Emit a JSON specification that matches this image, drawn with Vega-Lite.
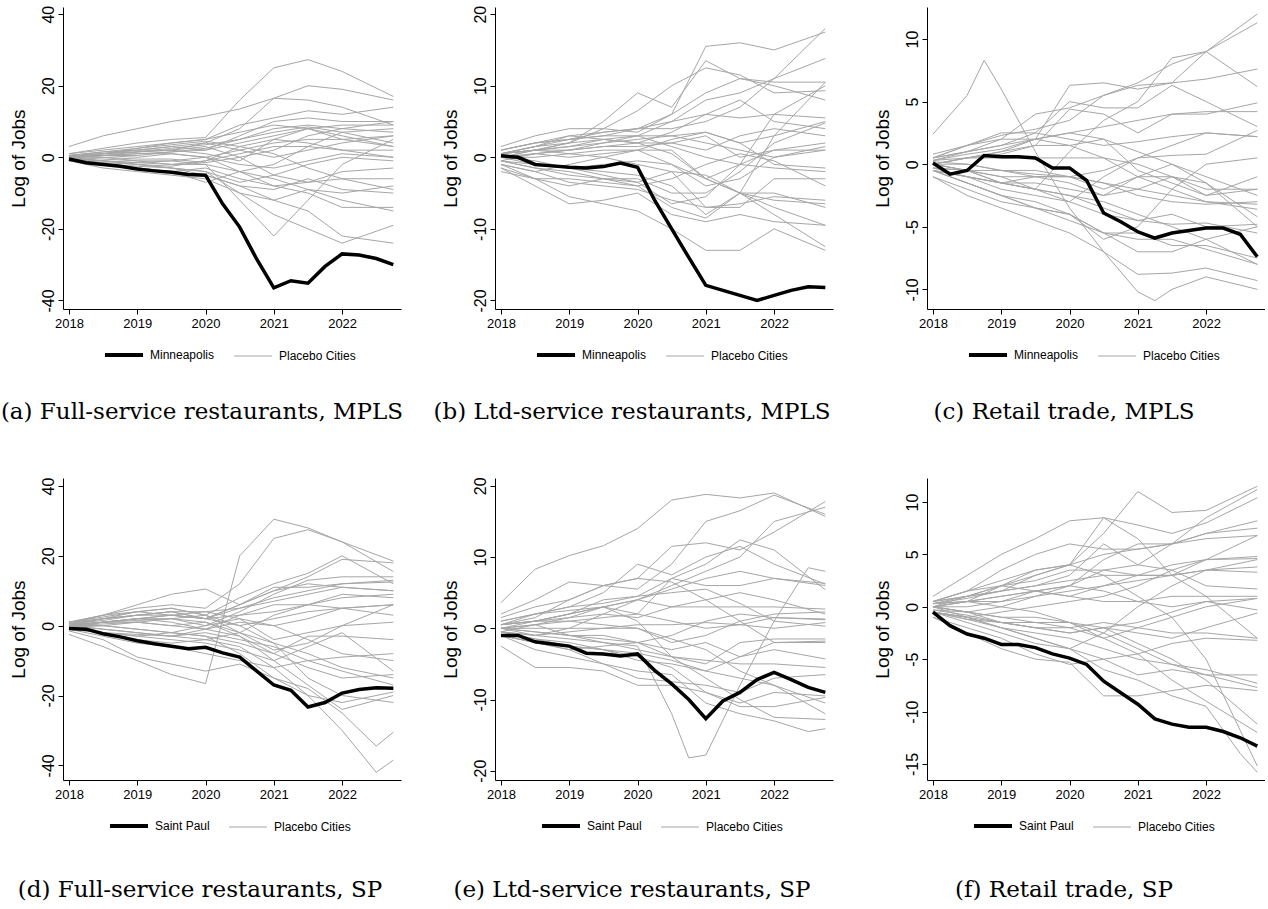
{
  "$schema": "https://vega.github.io/schema/vega-lite/v6.json",
  "background": "white",
  "padding": {"left": 0, "top": 5, "right": 0, "bottom": 0},
  "columns": 3,
  "bounds": "flush",
  "spacing": {"row": 169, "column": 94},
  "datasets": {
    "ap": [
      {"c":1,"q":0,"v":3},{"c":1,"q":2,"v":6},{"c":1,"q":4,"v":8},{"c":1,"q":6,"v":10},{"c":1,"q":8,"v":11.5},{"c":1,"q":10,"v":13.5},{"c":1,"q":12,"v":16.5},{"c":1,"q":14,"v":16},{"c":1,"q":16,"v":14},{"c":1,"q":19,"v":9},
      {"c":2,"q":0,"v":1},{"c":2,"q":2,"v":2.5},{"c":2,"q":4,"v":4},{"c":2,"q":6,"v":5},{"c":2,"q":8,"v":5.5},{"c":2,"q":10,"v":16},{"c":2,"q":12,"v":25},{"c":2,"q":14,"v":27.3},{"c":2,"q":16,"v":24},{"c":2,"q":19,"v":17},
      {"c":3,"q":0,"v":0.5},{"c":3,"q":2,"v":1.5},{"c":3,"q":4,"v":2},{"c":3,"q":6,"v":3},{"c":3,"q":8,"v":4},{"c":3,"q":10,"v":8},{"c":3,"q":12,"v":16.5},{"c":3,"q":14,"v":20},{"c":3,"q":16,"v":19},{"c":3,"q":19,"v":16},
      {"c":4,"q":0,"v":0},{"c":4,"q":2,"v":1},{"c":4,"q":4,"v":2.5},{"c":4,"q":6,"v":4},{"c":4,"q":8,"v":5},{"c":4,"q":10,"v":7},{"c":4,"q":12,"v":9},{"c":4,"q":14,"v":8},{"c":4,"q":16,"v":6},{"c":4,"q":19,"v":3},
      {"c":5,"q":0,"v":0},{"c":5,"q":2,"v":0.5},{"c":5,"q":4,"v":1},{"c":5,"q":6,"v":1.5},{"c":5,"q":8,"v":2},{"c":5,"q":10,"v":6},{"c":5,"q":12,"v":10},{"c":5,"q":14,"v":11},{"c":5,"q":16,"v":10},{"c":5,"q":19,"v":10},
      {"c":6,"q":0,"v":0.5},{"c":6,"q":2,"v":1},{"c":6,"q":4,"v":2},{"c":6,"q":6,"v":3},{"c":6,"q":8,"v":2},{"c":6,"q":10,"v":4},{"c":6,"q":12,"v":6},{"c":6,"q":14,"v":8},{"c":6,"q":16,"v":9},{"c":6,"q":19,"v":9},
      {"c":7,"q":0,"v":0},{"c":7,"q":2,"v":-0.5},{"c":7,"q":4,"v":-1},{"c":7,"q":6,"v":-1},{"c":7,"q":8,"v":0},{"c":7,"q":10,"v":2},{"c":7,"q":12,"v":4},{"c":7,"q":14,"v":5},{"c":7,"q":16,"v":5},{"c":7,"q":19,"v":6},
      {"c":8,"q":0,"v":-0.5},{"c":8,"q":2,"v":-1},{"c":8,"q":4,"v":-1.5},{"c":8,"q":6,"v":-2},{"c":8,"q":8,"v":-1},{"c":8,"q":10,"v":1},{"c":8,"q":12,"v":3},{"c":8,"q":14,"v":3},{"c":8,"q":16,"v":2},{"c":8,"q":19,"v":2},
      {"c":9,"q":0,"v":0},{"c":9,"q":2,"v":0.5},{"c":9,"q":4,"v":0},{"c":9,"q":6,"v":1},{"c":9,"q":8,"v":0},{"c":9,"q":10,"v":-2},{"c":9,"q":12,"v":-3},{"c":9,"q":14,"v":-1},{"c":9,"q":16,"v":1},{"c":9,"q":19,"v":0},
      {"c":10,"q":0,"v":-1},{"c":10,"q":2,"v":-2},{"c":10,"q":4,"v":-3},{"c":10,"q":6,"v":-4},{"c":10,"q":8,"v":-3},{"c":10,"q":10,"v":-6},{"c":10,"q":12,"v":-8},{"c":10,"q":14,"v":-7},{"c":10,"q":16,"v":-4},{"c":10,"q":19,"v":-3},
      {"c":11,"q":0,"v":-0.5},{"c":11,"q":2,"v":-2},{"c":11,"q":4,"v":-3},{"c":11,"q":6,"v":-4},{"c":11,"q":8,"v":-5},{"c":11,"q":10,"v":-8},{"c":11,"q":12,"v":-9},{"c":11,"q":14,"v":-6},{"c":11,"q":16,"v":-9},{"c":11,"q":19,"v":-10},
      {"c":12,"q":0,"v":0},{"c":12,"q":2,"v":-1},{"c":12,"q":4,"v":-2},{"c":12,"q":6,"v":-3},{"c":12,"q":8,"v":-4},{"c":12,"q":10,"v":-10},{"c":12,"q":12,"v":-12},{"c":12,"q":14,"v":-15},{"c":12,"q":16,"v":-22},{"c":12,"q":19,"v":-24},
      {"c":13,"q":0,"v":0.5},{"c":13,"q":2,"v":0},{"c":13,"q":4,"v":-1},{"c":13,"q":6,"v":-2},{"c":13,"q":8,"v":-2},{"c":13,"q":10,"v":-12},{"c":13,"q":12,"v":-22},{"c":13,"q":14,"v":-12},{"c":13,"q":16,"v":-2},{"c":13,"q":19,"v":5},
      {"c":14,"q":0,"v":-1},{"c":14,"q":2,"v":-3},{"c":14,"q":4,"v":-4},{"c":14,"q":6,"v":-5},{"c":14,"q":8,"v":-6},{"c":14,"q":10,"v":-10},{"c":14,"q":12,"v":-16},{"c":14,"q":14,"v":-20},{"c":14,"q":16,"v":-24},{"c":14,"q":19,"v":-19},
      {"c":15,"q":0,"v":0},{"c":15,"q":2,"v":0.5},{"c":15,"q":4,"v":1},{"c":15,"q":6,"v":1},{"c":15,"q":8,"v":0},{"c":15,"q":10,"v":-4},{"c":15,"q":12,"v":-8},{"c":15,"q":14,"v":-10},{"c":15,"q":16,"v":-14},{"c":15,"q":19,"v":-14},
      {"c":16,"q":0,"v":1},{"c":16,"q":2,"v":2},{"c":16,"q":4,"v":3},{"c":16,"q":6,"v":4},{"c":16,"q":8,"v":5},{"c":16,"q":10,"v":9},{"c":16,"q":12,"v":11},{"c":16,"q":14,"v":13},{"c":16,"q":16,"v":12},{"c":16,"q":19,"v":14},
      {"c":17,"q":0,"v":0},{"c":17,"q":2,"v":-1},{"c":17,"q":4,"v":-2},{"c":17,"q":6,"v":-2.5},{"c":17,"q":8,"v":-1},{"c":17,"q":10,"v":3},{"c":17,"q":12,"v":1},{"c":17,"q":14,"v":-3},{"c":17,"q":16,"v":-6},{"c":17,"q":19,"v":-6},
      {"c":18,"q":0,"v":-0.5},{"c":18,"q":2,"v":-1.5},{"c":18,"q":4,"v":-3},{"c":18,"q":6,"v":-4},{"c":18,"q":8,"v":-7},{"c":18,"q":10,"v":-4},{"c":18,"q":12,"v":-2},{"c":18,"q":14,"v":3},{"c":18,"q":16,"v":7},{"c":18,"q":19,"v":8},
      {"c":19,"q":0,"v":0},{"c":19,"q":2,"v":1},{"c":19,"q":4,"v":2},{"c":19,"q":6,"v":2},{"c":19,"q":8,"v":1},{"c":19,"q":10,"v":-1},{"c":19,"q":12,"v":5},{"c":19,"q":14,"v":8},{"c":19,"q":16,"v":5},{"c":19,"q":19,"v":3},
      {"c":20,"q":0,"v":0.5},{"c":20,"q":2,"v":1},{"c":20,"q":4,"v":1.5},{"c":20,"q":6,"v":2},{"c":20,"q":8,"v":3},{"c":20,"q":10,"v":0},{"c":20,"q":12,"v":-5},{"c":20,"q":14,"v":-7},{"c":20,"q":16,"v":-6},{"c":20,"q":19,"v":-9},
      {"c":21,"q":0,"v":0.5},{"c":21,"q":2,"v":1},{"c":21,"q":4,"v":1.5},{"c":21,"q":6,"v":2.5},{"c":21,"q":8,"v":3.5},{"c":21,"q":10,"v":5},{"c":21,"q":12,"v":7},{"c":21,"q":14,"v":8.5},{"c":21,"q":16,"v":7},{"c":21,"q":19,"v":4},
      {"c":22,"q":0,"v":-0.5},{"c":22,"q":2,"v":-1},{"c":22,"q":4,"v":-1.5},{"c":22,"q":6,"v":-1},{"c":22,"q":8,"v":-2},{"c":22,"q":10,"v":-4},{"c":22,"q":12,"v":-6},{"c":22,"q":14,"v":-9},{"c":22,"q":16,"v":-10},{"c":22,"q":19,"v":-8},
      {"c":23,"q":0,"v":0},{"c":23,"q":2,"v":0.5},{"c":23,"q":4,"v":1.5},{"c":23,"q":6,"v":2},{"c":23,"q":8,"v":4},{"c":23,"q":10,"v":2},{"c":23,"q":12,"v":0},{"c":23,"q":14,"v":2},{"c":23,"q":16,"v":4},{"c":23,"q":19,"v":6},
      {"c":24,"q":0,"v":0.5},{"c":24,"q":2,"v":1.5},{"c":24,"q":4,"v":2.5},{"c":24,"q":6,"v":3.5},{"c":24,"q":8,"v":4.5},{"c":24,"q":10,"v":3},{"c":24,"q":12,"v":5},{"c":24,"q":14,"v":4},{"c":24,"q":16,"v":2},{"c":24,"q":19,"v":0},
      {"c":25,"q":0,"v":-0.5},{"c":25,"q":2,"v":-1.5},{"c":25,"q":4,"v":-2},{"c":25,"q":6,"v":-3},{"c":25,"q":8,"v":-4},{"c":25,"q":10,"v":-7},{"c":25,"q":12,"v":-5},{"c":25,"q":14,"v":-2},{"c":25,"q":16,"v":0},{"c":25,"q":19,"v":-1},
      {"c":26,"q":0,"v":0},{"c":26,"q":2,"v":0},{"c":26,"q":4,"v":-0.5},{"c":26,"q":6,"v":-0.5},{"c":26,"q":8,"v":-1.5},{"c":26,"q":10,"v":0},{"c":26,"q":12,"v":2},{"c":26,"q":14,"v":6},{"c":26,"q":16,"v":8},{"c":26,"q":19,"v":10},
      {"c":27,"q":0,"v":0},{"c":27,"q":2,"v":0.5},{"c":27,"q":4,"v":0.5},{"c":27,"q":6,"v":1.5},{"c":27,"q":8,"v":2.5},{"c":27,"q":10,"v":5},{"c":27,"q":12,"v":8},{"c":27,"q":14,"v":9},{"c":27,"q":16,"v":8},{"c":27,"q":19,"v":7},
      {"c":28,"q":0,"v":-1},{"c":28,"q":2,"v":-2},{"c":28,"q":4,"v":-2.5},{"c":28,"q":6,"v":-3},{"c":28,"q":8,"v":-5},{"c":28,"q":10,"v":-8},{"c":28,"q":12,"v":-12},{"c":28,"q":14,"v":-9},{"c":28,"q":16,"v":-12},{"c":28,"q":19,"v":-15}
    ],
    "at": [
      {"q":0,"v":-0.5},{"q":1,"v":-1.5},{"q":2,"v":-2},{"q":3,"v":-2.5},{"q":4,"v":-3.3},{"q":5,"v":-3.8},{"q":6,"v":-4.2},{"q":7,"v":-4.8},{"q":8,"v":-5},{"q":9,"v":-13},
      {"q":10,"v":-19.5},{"q":11,"v":-28.5},{"q":12,"v":-36.5},{"q":13,"v":-34.5},{"q":14,"v":-35.2},{"q":15,"v":-30.5},{"q":16,"v":-27},{"q":17,"v":-27.3},{"q":18,"v":-28.3},{"q":19,"v":-30}
    ],
    "bp": [
      {"c":1,"q":0,"v":1.5},{"c":1,"q":2,"v":3},{"c":1,"q":4,"v":4},{"c":1,"q":6,"v":4},{"c":1,"q":8,"v":3.5},{"c":1,"q":10,"v":6},{"c":1,"q":12,"v":15.5},{"c":1,"q":14,"v":16},{"c":1,"q":16,"v":15},{"c":1,"q":19,"v":17.5},
      {"c":2,"q":0,"v":0.5},{"c":2,"q":2,"v":1},{"c":2,"q":4,"v":2},{"c":2,"q":6,"v":5},{"c":2,"q":8,"v":9},{"c":2,"q":10,"v":7},{"c":2,"q":12,"v":13.5},{"c":2,"q":14,"v":11},{"c":2,"q":16,"v":10},{"c":2,"q":19,"v":8},
      {"c":3,"q":0,"v":0},{"c":3,"q":2,"v":1},{"c":3,"q":4,"v":2},{"c":3,"q":6,"v":4},{"c":3,"q":8,"v":6.5},{"c":3,"q":10,"v":10},{"c":3,"q":12,"v":12.5},{"c":3,"q":14,"v":11.5},{"c":3,"q":16,"v":9},{"c":3,"q":19,"v":9.3},
      {"c":4,"q":0,"v":0.5},{"c":4,"q":2,"v":1.5},{"c":4,"q":4,"v":2},{"c":4,"q":6,"v":2.5},{"c":4,"q":8,"v":3},{"c":4,"q":10,"v":5},{"c":4,"q":12,"v":8},{"c":4,"q":14,"v":9},{"c":4,"q":16,"v":11},{"c":4,"q":19,"v":13.8},
      {"c":5,"q":0,"v":1},{"c":5,"q":2,"v":2},{"c":5,"q":4,"v":2.5},{"c":5,"q":6,"v":3},{"c":5,"q":8,"v":4},{"c":5,"q":10,"v":4},{"c":5,"q":12,"v":5},{"c":5,"q":14,"v":7},{"c":5,"q":16,"v":11},{"c":5,"q":19,"v":18},
      {"c":6,"q":0,"v":0},{"c":6,"q":2,"v":0.5},{"c":6,"q":4,"v":1},{"c":6,"q":6,"v":2},{"c":6,"q":8,"v":3},{"c":6,"q":10,"v":3},{"c":6,"q":12,"v":3.5},{"c":6,"q":14,"v":2},{"c":6,"q":16,"v":3},{"c":6,"q":19,"v":5},
      {"c":7,"q":0,"v":-0.5},{"c":7,"q":2,"v":0.5},{"c":7,"q":4,"v":1},{"c":7,"q":6,"v":1.5},{"c":7,"q":8,"v":1.5},{"c":7,"q":10,"v":2},{"c":7,"q":12,"v":3},{"c":7,"q":14,"v":0},{"c":7,"q":16,"v":1},{"c":7,"q":19,"v":2},
      {"c":8,"q":0,"v":0.5},{"c":8,"q":2,"v":1},{"c":8,"q":4,"v":0.5},{"c":8,"q":6,"v":1},{"c":8,"q":8,"v":1},{"c":8,"q":10,"v":2.5},{"c":8,"q":12,"v":3.5},{"c":8,"q":14,"v":2},{"c":8,"q":16,"v":-1},{"c":8,"q":19,"v":-1.5},
      {"c":9,"q":0,"v":-1},{"c":9,"q":2,"v":-2},{"c":9,"q":4,"v":-1},{"c":9,"q":6,"v":0},{"c":9,"q":8,"v":1},{"c":9,"q":10,"v":1},{"c":9,"q":12,"v":-3},{"c":9,"q":14,"v":-1},{"c":9,"q":16,"v":1},{"c":9,"q":19,"v":1},
      {"c":10,"q":0,"v":-1.5},{"c":10,"q":2,"v":-3},{"c":10,"q":4,"v":-4},{"c":10,"q":6,"v":-3},{"c":10,"q":8,"v":-3},{"c":10,"q":10,"v":-5},{"c":10,"q":12,"v":-5},{"c":10,"q":14,"v":-2},{"c":10,"q":16,"v":2},{"c":10,"q":19,"v":4.8},
      {"c":11,"q":0,"v":0},{"c":11,"q":2,"v":-1},{"c":11,"q":4,"v":-1.5},{"c":11,"q":6,"v":-2},{"c":11,"q":8,"v":-2.5},{"c":11,"q":10,"v":-4},{"c":11,"q":12,"v":-8},{"c":11,"q":14,"v":-5},{"c":11,"q":16,"v":-5},{"c":11,"q":19,"v":-7},
      {"c":12,"q":0,"v":-1.5},{"c":12,"q":2,"v":-4},{"c":12,"q":4,"v":-6.5},{"c":12,"q":6,"v":-6},{"c":12,"q":8,"v":-5},{"c":12,"q":10,"v":-8},{"c":12,"q":12,"v":-9},{"c":12,"q":14,"v":-8},{"c":12,"q":16,"v":-9},{"c":12,"q":19,"v":-9.5},
      {"c":13,"q":0,"v":-1},{"c":13,"q":2,"v":-3},{"c":13,"q":4,"v":-5.5},{"c":13,"q":6,"v":-6.5},{"c":13,"q":8,"v":-7.5},{"c":13,"q":10,"v":-10},{"c":13,"q":12,"v":-13},{"c":13,"q":14,"v":-13},{"c":13,"q":16,"v":-10},{"c":13,"q":19,"v":-13},
      {"c":14,"q":0,"v":-0.5},{"c":14,"q":2,"v":-1.5},{"c":14,"q":4,"v":-2.5},{"c":14,"q":6,"v":-3},{"c":14,"q":8,"v":-3.5},{"c":14,"q":10,"v":-2},{"c":14,"q":12,"v":-7},{"c":14,"q":14,"v":-7},{"c":14,"q":16,"v":-3},{"c":14,"q":19,"v":-3},
      {"c":15,"q":0,"v":0.5},{"c":15,"q":2,"v":1.5},{"c":15,"q":4,"v":2.5},{"c":15,"q":6,"v":3},{"c":15,"q":8,"v":3},{"c":15,"q":10,"v":1.5},{"c":15,"q":12,"v":0},{"c":15,"q":14,"v":-1},{"c":15,"q":16,"v":-1.5},{"c":15,"q":19,"v":-2},
      {"c":16,"q":0,"v":0},{"c":16,"q":2,"v":-0.5},{"c":16,"q":4,"v":-1.5},{"c":16,"q":6,"v":-2.5},{"c":16,"q":8,"v":-3.5},{"c":16,"q":10,"v":-6.5},{"c":16,"q":12,"v":-5.5},{"c":16,"q":14,"v":-1},{"c":16,"q":16,"v":6},{"c":16,"q":19,"v":10},
      {"c":17,"q":0,"v":-2},{"c":17,"q":2,"v":-3},{"c":17,"q":4,"v":-3},{"c":17,"q":6,"v":-3.5},{"c":17,"q":8,"v":-4},{"c":17,"q":10,"v":-7},{"c":17,"q":12,"v":-8.5},{"c":17,"q":14,"v":-5},{"c":17,"q":16,"v":3},{"c":17,"q":19,"v":10.5},
      {"c":18,"q":0,"v":0.5},{"c":18,"q":2,"v":1},{"c":18,"q":4,"v":1},{"c":18,"q":6,"v":1.5},{"c":18,"q":8,"v":2},{"c":18,"q":10,"v":0.5},{"c":18,"q":12,"v":-3},{"c":18,"q":14,"v":-5},{"c":18,"q":16,"v":-6},{"c":18,"q":19,"v":-6.5},
      {"c":19,"q":0,"v":1},{"c":19,"q":2,"v":2},{"c":19,"q":4,"v":3},{"c":19,"q":6,"v":2.5},{"c":19,"q":8,"v":2},{"c":19,"q":10,"v":3.5},{"c":19,"q":12,"v":6},{"c":19,"q":14,"v":8},{"c":19,"q":16,"v":5},{"c":19,"q":19,"v":4},
      {"c":20,"q":0,"v":0},{"c":20,"q":2,"v":0},{"c":20,"q":4,"v":0.5},{"c":20,"q":6,"v":0},{"c":20,"q":8,"v":-1},{"c":20,"q":10,"v":-2},{"c":20,"q":12,"v":-2.5},{"c":20,"q":14,"v":-5},{"c":20,"q":16,"v":-8},{"c":20,"q":19,"v":-12.5},
      {"c":21,"q":0,"v":0.5},{"c":21,"q":2,"v":1.5},{"c":21,"q":4,"v":3},{"c":21,"q":6,"v":3.5},{"c":21,"q":8,"v":4},{"c":21,"q":10,"v":5},{"c":21,"q":12,"v":6},{"c":21,"q":14,"v":5.5},{"c":21,"q":16,"v":6},{"c":21,"q":19,"v":5.5},
      {"c":22,"q":0,"v":0},{"c":22,"q":2,"v":1},{"c":22,"q":4,"v":1.5},{"c":22,"q":6,"v":2},{"c":22,"q":8,"v":2.5},{"c":22,"q":10,"v":3},{"c":22,"q":12,"v":2},{"c":22,"q":14,"v":1},{"c":22,"q":16,"v":0},{"c":22,"q":19,"v":1},
      {"c":23,"q":0,"v":-0.5},{"c":23,"q":2,"v":-1},{"c":23,"q":4,"v":-1.5},{"c":23,"q":6,"v":-1},{"c":23,"q":8,"v":-0.5},{"c":23,"q":10,"v":-1},{"c":23,"q":12,"v":-3},{"c":23,"q":14,"v":-5},{"c":23,"q":16,"v":-7},{"c":23,"q":19,"v":-9.5},
      {"c":24,"q":0,"v":1},{"c":24,"q":2,"v":2},{"c":24,"q":4,"v":2.5},{"c":24,"q":6,"v":3.5},{"c":24,"q":8,"v":4},{"c":24,"q":10,"v":6},{"c":24,"q":12,"v":9},{"c":24,"q":14,"v":11},{"c":24,"q":16,"v":10.5},{"c":24,"q":19,"v":10.5},
      {"c":25,"q":0,"v":-1},{"c":25,"q":2,"v":-2},{"c":25,"q":4,"v":-3.5},{"c":25,"q":6,"v":-4},{"c":25,"q":8,"v":-4.5},{"c":25,"q":10,"v":-6},{"c":25,"q":12,"v":-7},{"c":25,"q":14,"v":-6.5},{"c":25,"q":16,"v":-5.5},{"c":25,"q":19,"v":-6},
      {"c":26,"q":0,"v":0.5},{"c":26,"q":2,"v":1},{"c":26,"q":4,"v":1.5},{"c":26,"q":6,"v":2.5},{"c":26,"q":8,"v":2},{"c":26,"q":10,"v":2},{"c":26,"q":12,"v":1},{"c":26,"q":14,"v":3},{"c":26,"q":16,"v":4},{"c":26,"q":19,"v":3},
      {"c":27,"q":0,"v":0},{"c":27,"q":2,"v":0.5},{"c":27,"q":4,"v":0},{"c":27,"q":6,"v":0.5},{"c":27,"q":8,"v":1},{"c":27,"q":10,"v":-1},{"c":27,"q":12,"v":-4},{"c":27,"q":14,"v":-3},{"c":27,"q":16,"v":0},{"c":27,"q":19,"v":1.5},
      {"c":28,"q":0,"v":-0.5},{"c":28,"q":2,"v":-1.5},{"c":28,"q":4,"v":-2},{"c":28,"q":6,"v":-3},{"c":28,"q":8,"v":-4},{"c":28,"q":10,"v":-3},{"c":28,"q":12,"v":-1},{"c":28,"q":14,"v":0.5},{"c":28,"q":16,"v":-0.5},{"c":28,"q":19,"v":-4}
    ],
    "bt": [
      {"q":0,"v":0.2},{"q":1,"v":0},{"q":2,"v":-1},{"q":3,"v":-1.2},{"q":4,"v":-1.4},{"q":5,"v":-1.5},{"q":6,"v":-1.3},{"q":7,"v":-0.8},{"q":8,"v":-1.4},{"q":9,"v":-6},
      {"q":10,"v":-10},{"q":11,"v":-14},{"q":12,"v":-17.9},{"q":13,"v":-18.6},{"q":14,"v":-19.3},{"q":15,"v":-20},{"q":16,"v":-19.3},{"q":17,"v":-18.6},{"q":18,"v":-18.1},{"q":19,"v":-18.2}
    ],
    "cp": [
      {"c":1,"q":0,"v":2.4},{"c":1,"q":2,"v":5.5},{"c":1,"q":3,"v":8.3},{"c":1,"q":4,"v":6},{"c":1,"q":6,"v":1},{"c":1,"q":8,"v":-3.5},{"c":1,"q":10,"v":-7},{"c":1,"q":12,"v":-10.2},{"c":1,"q":13,"v":-10.9},{"c":1,"q":14,"v":-10},{"c":1,"q":16,"v":-9},{"c":1,"q":19,"v":-10},
      {"c":2,"q":0,"v":0.8},{"c":2,"q":2,"v":1.5},{"c":2,"q":4,"v":2.3},{"c":2,"q":6,"v":2.8},{"c":2,"q":8,"v":3.5},{"c":2,"q":10,"v":5.5},{"c":2,"q":12,"v":6.5},{"c":2,"q":14,"v":8},{"c":2,"q":16,"v":9},{"c":2,"q":19,"v":12},
      {"c":3,"q":0,"v":0.5},{"c":3,"q":2,"v":1},{"c":3,"q":4,"v":2},{"c":3,"q":6,"v":4},{"c":3,"q":8,"v":4.5},{"c":3,"q":10,"v":5.5},{"c":3,"q":12,"v":6.3},{"c":3,"q":14,"v":6.5},{"c":3,"q":16,"v":9},{"c":3,"q":19,"v":11.3},
      {"c":4,"q":0,"v":0},{"c":4,"q":2,"v":0.5},{"c":4,"q":4,"v":1},{"c":4,"q":6,"v":2},{"c":4,"q":8,"v":6.3},{"c":4,"q":10,"v":6.5},{"c":4,"q":12,"v":6},{"c":4,"q":14,"v":6.5},{"c":4,"q":16,"v":6.8},{"c":4,"q":19,"v":7.6},
      {"c":5,"q":0,"v":0.3},{"c":5,"q":2,"v":1},{"c":5,"q":4,"v":1.5},{"c":5,"q":6,"v":2.5},{"c":5,"q":8,"v":5},{"c":5,"q":10,"v":4.5},{"c":5,"q":12,"v":4.5},{"c":5,"q":14,"v":6.3},{"c":5,"q":16,"v":5},{"c":5,"q":19,"v":3},
      {"c":6,"q":0,"v":0},{"c":6,"q":2,"v":0.5},{"c":6,"q":4,"v":0.8},{"c":6,"q":6,"v":1.5},{"c":6,"q":8,"v":4.4},{"c":6,"q":10,"v":4},{"c":6,"q":12,"v":2.5},{"c":6,"q":14,"v":4},{"c":6,"q":16,"v":4},{"c":6,"q":19,"v":4.9},
      {"c":7,"q":0,"v":-0.3},{"c":7,"q":2,"v":-0.5},{"c":7,"q":4,"v":-1.5},{"c":7,"q":6,"v":-2},{"c":7,"q":8,"v":1},{"c":7,"q":10,"v":3.5},{"c":7,"q":12,"v":5},{"c":7,"q":14,"v":8.5},{"c":7,"q":16,"v":9},{"c":7,"q":19,"v":6.2},
      {"c":8,"q":0,"v":0.5},{"c":8,"q":2,"v":1.5},{"c":8,"q":4,"v":2.5},{"c":8,"q":6,"v":2.5},{"c":8,"q":8,"v":2},{"c":8,"q":10,"v":1.5},{"c":8,"q":12,"v":1.8},{"c":8,"q":14,"v":2.2},{"c":8,"q":16,"v":2.5},{"c":8,"q":19,"v":2.2},
      {"c":9,"q":0,"v":-0.5},{"c":9,"q":2,"v":-1},{"c":9,"q":4,"v":-2},{"c":9,"q":6,"v":-2.5},{"c":9,"q":8,"v":-3},{"c":9,"q":10,"v":-1},{"c":9,"q":12,"v":0.5},{"c":9,"q":14,"v":0.7},{"c":9,"q":16,"v":0.8},{"c":9,"q":19,"v":2.7},
      {"c":10,"q":0,"v":0},{"c":10,"q":2,"v":-0.5},{"c":10,"q":4,"v":-1},{"c":10,"q":6,"v":-1},{"c":10,"q":8,"v":-1},{"c":10,"q":10,"v":-1.5},{"c":10,"q":12,"v":-2},{"c":10,"q":14,"v":-1},{"c":10,"q":16,"v":-2.5},{"c":10,"q":19,"v":-1},
      {"c":11,"q":0,"v":-0.5},{"c":11,"q":2,"v":-1.5},{"c":11,"q":4,"v":-2.5},{"c":11,"q":6,"v":-3.5},{"c":11,"q":8,"v":-4},{"c":11,"q":10,"v":-6},{"c":11,"q":12,"v":-5},{"c":11,"q":14,"v":-2},{"c":11,"q":16,"v":0},{"c":11,"q":19,"v":0.5},
      {"c":12,"q":0,"v":0.2},{"c":12,"q":2,"v":0},{"c":12,"q":4,"v":-0.5},{"c":12,"q":6,"v":-0.5},{"c":12,"q":8,"v":-1},{"c":12,"q":10,"v":-2},{"c":12,"q":12,"v":-1},{"c":12,"q":14,"v":-1},{"c":12,"q":16,"v":-2},{"c":12,"q":19,"v":-2},
      {"c":13,"q":0,"v":-0.3},{"c":13,"q":2,"v":-1},{"c":13,"q":4,"v":-1.5},{"c":13,"q":6,"v":-1},{"c":13,"q":8,"v":-1.5},{"c":13,"q":10,"v":-2.5},{"c":13,"q":12,"v":-2},{"c":13,"q":14,"v":-2.5},{"c":13,"q":16,"v":-3},{"c":13,"q":19,"v":-3.6},
      {"c":14,"q":0,"v":-1},{"c":14,"q":2,"v":-2},{"c":14,"q":4,"v":-3},{"c":14,"q":6,"v":-3.5},{"c":14,"q":8,"v":-4},{"c":14,"q":10,"v":-5.5},{"c":14,"q":12,"v":-7},{"c":14,"q":14,"v":-7},{"c":14,"q":16,"v":-6},{"c":14,"q":19,"v":-5},
      {"c":15,"q":0,"v":-1},{"c":15,"q":2,"v":-2.5},{"c":15,"q":4,"v":-3.5},{"c":15,"q":6,"v":-4.5},{"c":15,"q":8,"v":-5.5},{"c":15,"q":10,"v":-7},{"c":15,"q":12,"v":-8.8},{"c":15,"q":14,"v":-8.7},{"c":15,"q":16,"v":-8.3},{"c":15,"q":19,"v":-9.3},
      {"c":16,"q":0,"v":-0.5},{"c":16,"q":2,"v":-1.5},{"c":16,"q":4,"v":-2.5},{"c":16,"q":6,"v":-3},{"c":16,"q":8,"v":-4},{"c":16,"q":10,"v":-5.5},{"c":16,"q":12,"v":-5.5},{"c":16,"q":14,"v":-6.5},{"c":16,"q":16,"v":-6.5},{"c":16,"q":19,"v":-7.5},
      {"c":17,"q":0,"v":0},{"c":17,"q":2,"v":-0.5},{"c":17,"q":4,"v":-1},{"c":17,"q":6,"v":-2},{"c":17,"q":8,"v":-2.5},{"c":17,"q":10,"v":-3},{"c":17,"q":12,"v":-4},{"c":17,"q":14,"v":-5},{"c":17,"q":16,"v":-6},{"c":17,"q":19,"v":-8},
      {"c":18,"q":0,"v":0},{"c":18,"q":2,"v":0.5},{"c":18,"q":4,"v":1},{"c":18,"q":6,"v":1.5},{"c":18,"q":8,"v":1.5},{"c":18,"q":10,"v":2},{"c":18,"q":12,"v":1},{"c":18,"q":14,"v":0},{"c":18,"q":16,"v":-1},{"c":18,"q":19,"v":-2.5},
      {"c":19,"q":0,"v":-0.5},{"c":19,"q":2,"v":-1},{"c":19,"q":4,"v":-1.5},{"c":19,"q":6,"v":-1.5},{"c":19,"q":8,"v":-2},{"c":19,"q":10,"v":-2.5},{"c":19,"q":12,"v":-1},{"c":19,"q":14,"v":0},{"c":19,"q":16,"v":-1.5},{"c":19,"q":19,"v":-4.2},
      {"c":20,"q":0,"v":0.3},{"c":20,"q":2,"v":0.5},{"c":20,"q":4,"v":0.5},{"c":20,"q":6,"v":0.5},{"c":20,"q":8,"v":0.5},{"c":20,"q":10,"v":0.5},{"c":20,"q":12,"v":0},{"c":20,"q":14,"v":-1},{"c":20,"q":16,"v":-1.5},{"c":20,"q":19,"v":-5},
      {"c":21,"q":0,"v":0.5},{"c":21,"q":2,"v":1},{"c":21,"q":4,"v":1.5},{"c":21,"q":6,"v":2},{"c":21,"q":8,"v":2.5},{"c":21,"q":10,"v":3},{"c":21,"q":12,"v":3.5},{"c":21,"q":14,"v":4},{"c":21,"q":16,"v":4.2},{"c":21,"q":19,"v":4.2},
      {"c":22,"q":0,"v":-0.5},{"c":22,"q":2,"v":-1},{"c":22,"q":4,"v":-1.5},{"c":22,"q":6,"v":-2},{"c":22,"q":8,"v":-2.5},{"c":22,"q":10,"v":-3.5},{"c":22,"q":12,"v":-4.5},{"c":22,"q":14,"v":-4.8},{"c":22,"q":16,"v":-4.7},{"c":22,"q":19,"v":-5.5},
      {"c":23,"q":0,"v":0},{"c":23,"q":2,"v":0},{"c":23,"q":4,"v":-0.5},{"c":23,"q":6,"v":-1},{"c":23,"q":8,"v":-1},{"c":23,"q":10,"v":-0.5},{"c":23,"q":12,"v":0.5},{"c":23,"q":14,"v":1.5},{"c":23,"q":16,"v":2.5},{"c":23,"q":19,"v":2.2},
      {"c":24,"q":0,"v":-0.5},{"c":24,"q":2,"v":-1.5},{"c":24,"q":4,"v":-2.5},{"c":24,"q":6,"v":-3.5},{"c":24,"q":8,"v":-4.5},{"c":24,"q":10,"v":-5.5},{"c":24,"q":12,"v":-6},{"c":24,"q":14,"v":-6},{"c":24,"q":16,"v":-6.8},{"c":24,"q":19,"v":-8},
      {"c":25,"q":0,"v":0.3},{"c":25,"q":2,"v":0.8},{"c":25,"q":4,"v":1.2},{"c":25,"q":6,"v":2},{"c":25,"q":8,"v":2.5},{"c":25,"q":10,"v":2},{"c":25,"q":12,"v":-0.5},{"c":25,"q":14,"v":-1.5},{"c":25,"q":16,"v":-2.5},{"c":25,"q":19,"v":-2},
      {"c":26,"q":0,"v":-0.3},{"c":26,"q":2,"v":-0.5},{"c":26,"q":4,"v":-0.5},{"c":26,"q":6,"v":-0.8},{"c":26,"q":8,"v":-1},{"c":26,"q":10,"v":-1.5},{"c":26,"q":12,"v":-2.5},{"c":26,"q":14,"v":-3},{"c":26,"q":16,"v":-3.2},{"c":26,"q":19,"v":-3},
      {"c":27,"q":0,"v":0.5},{"c":27,"q":2,"v":1.5},{"c":27,"q":4,"v":2},{"c":27,"q":6,"v":2},{"c":27,"q":8,"v":1.5},{"c":27,"q":10,"v":0.5},{"c":27,"q":12,"v":-1},{"c":27,"q":14,"v":-2},{"c":27,"q":16,"v":-3},{"c":27,"q":19,"v":-3.2},
      {"c":28,"q":0,"v":0},{"c":28,"q":2,"v":-0.5},{"c":28,"q":4,"v":-1.5},{"c":28,"q":6,"v":-2},{"c":28,"q":8,"v":-3},{"c":28,"q":10,"v":-4},{"c":28,"q":12,"v":-4.5},{"c":28,"q":14,"v":-4},{"c":28,"q":16,"v":-5},{"c":28,"q":19,"v":-4.8}
    ],
    "ct": [
      {"q":0,"v":0.1},{"q":1,"v":-0.8},{"q":2,"v":-0.5},{"q":3,"v":0.7},{"q":4,"v":0.6},{"q":5,"v":0.6},{"q":6,"v":0.5},{"q":7,"v":-0.3},{"q":8,"v":-0.3},{"q":9,"v":-1.3},
      {"q":10,"v":-3.9},{"q":11,"v":-4.6},{"q":12,"v":-5.4},{"q":13,"v":-5.9},{"q":14,"v":-5.5},{"q":15,"v":-5.3},{"q":16,"v":-5.1},{"q":17,"v":-5.1},{"q":18,"v":-5.6},{"q":19,"v":-7.4}
    ],
    "dp": [
      {"c":1,"q":0,"v":-2.5},{"c":1,"q":2,"v":-6},{"c":1,"q":4,"v":-10},{"c":1,"q":6,"v":-14},{"c":1,"q":8,"v":-16.6},{"c":1,"q":10,"v":20},{"c":1,"q":12,"v":30.5},{"c":1,"q":14,"v":28},{"c":1,"q":16,"v":24},{"c":1,"q":19,"v":18.5},
      {"c":2,"q":0,"v":1},{"c":2,"q":2,"v":3},{"c":2,"q":4,"v":5},{"c":2,"q":6,"v":6},{"c":2,"q":8,"v":5},{"c":2,"q":10,"v":12},{"c":2,"q":12,"v":25},{"c":2,"q":14,"v":27.5},{"c":2,"q":16,"v":24},{"c":2,"q":19,"v":15.5},
      {"c":3,"q":0,"v":0.5},{"c":3,"q":2,"v":3},{"c":3,"q":4,"v":6},{"c":3,"q":6,"v":9},{"c":3,"q":8,"v":10.5},{"c":3,"q":10,"v":6},{"c":3,"q":12,"v":10},{"c":3,"q":14,"v":14},{"c":3,"q":16,"v":19},{"c":3,"q":19,"v":18},
      {"c":4,"q":0,"v":0},{"c":4,"q":2,"v":2},{"c":4,"q":4,"v":4},{"c":4,"q":6,"v":5},{"c":4,"q":8,"v":3},{"c":4,"q":10,"v":8},{"c":4,"q":12,"v":12},{"c":4,"q":14,"v":15},{"c":4,"q":16,"v":20},{"c":4,"q":19,"v":12},
      {"c":5,"q":0,"v":1},{"c":5,"q":2,"v":3},{"c":5,"q":4,"v":4},{"c":5,"q":6,"v":3},{"c":5,"q":8,"v":2},{"c":5,"q":10,"v":6},{"c":5,"q":12,"v":11},{"c":5,"q":14,"v":11},{"c":5,"q":16,"v":12},{"c":5,"q":19,"v":13},
      {"c":6,"q":0,"v":-0.5},{"c":6,"q":2,"v":1},{"c":6,"q":4,"v":2},{"c":6,"q":6,"v":3},{"c":6,"q":8,"v":4},{"c":6,"q":10,"v":5},{"c":6,"q":12,"v":7},{"c":6,"q":14,"v":9},{"c":6,"q":16,"v":11},{"c":6,"q":19,"v":10},
      {"c":7,"q":0,"v":0},{"c":7,"q":2,"v":1},{"c":7,"q":4,"v":2},{"c":7,"q":6,"v":1},{"c":7,"q":8,"v":-1},{"c":7,"q":10,"v":3},{"c":7,"q":12,"v":6},{"c":7,"q":14,"v":6},{"c":7,"q":16,"v":5},{"c":7,"q":19,"v":6},
      {"c":8,"q":0,"v":0.5},{"c":8,"q":2,"v":2},{"c":8,"q":4,"v":3},{"c":8,"q":6,"v":4},{"c":8,"q":8,"v":2},{"c":8,"q":10,"v":0},{"c":8,"q":12,"v":2},{"c":8,"q":14,"v":4},{"c":8,"q":16,"v":5},{"c":8,"q":19,"v":3},
      {"c":9,"q":0,"v":-1},{"c":9,"q":2,"v":-2},{"c":9,"q":4,"v":-3},{"c":9,"q":6,"v":-2},{"c":9,"q":8,"v":0},{"c":9,"q":10,"v":2},{"c":9,"q":12,"v":-4},{"c":9,"q":14,"v":-2},{"c":9,"q":16,"v":0},{"c":9,"q":19,"v":1},
      {"c":10,"q":0,"v":0},{"c":10,"q":2,"v":0},{"c":10,"q":4,"v":-1},{"c":10,"q":6,"v":-2},{"c":10,"q":8,"v":-3},{"c":10,"q":10,"v":-5},{"c":10,"q":12,"v":-8},{"c":10,"q":14,"v":-3},{"c":10,"q":16,"v":-3},{"c":10,"q":19,"v":-4},
      {"c":11,"q":0,"v":-0.5},{"c":11,"q":2,"v":-2},{"c":11,"q":4,"v":-4},{"c":11,"q":6,"v":-5},{"c":11,"q":8,"v":-4},{"c":11,"q":10,"v":-2},{"c":11,"q":12,"v":3},{"c":11,"q":14,"v":6},{"c":11,"q":16,"v":9},{"c":11,"q":19,"v":8},
      {"c":12,"q":0,"v":-1},{"c":12,"q":2,"v":-3},{"c":12,"q":4,"v":-5},{"c":12,"q":6,"v":-6},{"c":12,"q":8,"v":-8},{"c":12,"q":10,"v":-10},{"c":12,"q":12,"v":-12},{"c":12,"q":14,"v":-10},{"c":12,"q":16,"v":-9},{"c":12,"q":19,"v":-8},
      {"c":13,"q":0,"v":0.5},{"c":13,"q":2,"v":1},{"c":13,"q":4,"v":1},{"c":13,"q":6,"v":0},{"c":13,"q":8,"v":1},{"c":13,"q":10,"v":-3},{"c":13,"q":12,"v":-8},{"c":13,"q":14,"v":-12},{"c":13,"q":16,"v":-15},{"c":13,"q":19,"v":-14},
      {"c":14,"q":0,"v":-1.5},{"c":14,"q":2,"v":-4},{"c":14,"q":4,"v":-9},{"c":14,"q":6,"v":-11},{"c":14,"q":8,"v":-13},{"c":14,"q":10,"v":-11},{"c":14,"q":12,"v":-15},{"c":14,"q":14,"v":-20},{"c":14,"q":16,"v":-22},{"c":14,"q":19,"v":-19},
      {"c":15,"q":0,"v":0},{"c":15,"q":2,"v":-1},{"c":15,"q":4,"v":-2},{"c":15,"q":6,"v":-3},{"c":15,"q":8,"v":-4},{"c":15,"q":10,"v":-6},{"c":15,"q":12,"v":-12},{"c":15,"q":14,"v":-20},{"c":15,"q":16,"v":-30},{"c":15,"q":18,"v":-42},{"c":15,"q":19,"v":-38.5},
      {"c":16,"q":0,"v":0.5},{"c":16,"q":2,"v":0},{"c":16,"q":4,"v":-1},{"c":16,"q":6,"v":-2},{"c":16,"q":8,"v":-3},{"c":16,"q":10,"v":-8},{"c":16,"q":12,"v":-15},{"c":16,"q":14,"v":-18},{"c":16,"q":16,"v":-25},{"c":16,"q":18,"v":-34.5},{"c":16,"q":19,"v":-30.5},
      {"c":17,"q":0,"v":0},{"c":17,"q":2,"v":1},{"c":17,"q":4,"v":1.5},{"c":17,"q":6,"v":2},{"c":17,"q":8,"v":3},{"c":17,"q":10,"v":0},{"c":17,"q":12,"v":-5},{"c":17,"q":14,"v":-15},{"c":17,"q":16,"v":-20},{"c":17,"q":19,"v":-22},
      {"c":18,"q":0,"v":-1},{"c":18,"q":2,"v":-2},{"c":18,"q":4,"v":-3},{"c":18,"q":6,"v":-4},{"c":18,"q":8,"v":-5},{"c":18,"q":10,"v":-7},{"c":18,"q":12,"v":-10},{"c":18,"q":14,"v":-17},{"c":18,"q":16,"v":-24},{"c":18,"q":19,"v":-20},
      {"c":19,"q":0,"v":1},{"c":19,"q":2,"v":2},{"c":19,"q":4,"v":3},{"c":19,"q":6,"v":4},{"c":19,"q":8,"v":4},{"c":19,"q":10,"v":2},{"c":19,"q":12,"v":0},{"c":19,"q":14,"v":2},{"c":19,"q":16,"v":5},{"c":19,"q":19,"v":6},
      {"c":20,"q":0,"v":0},{"c":20,"q":2,"v":0.5},{"c":20,"q":4,"v":1},{"c":20,"q":6,"v":0},{"c":20,"q":8,"v":-1},{"c":20,"q":10,"v":-3},{"c":20,"q":12,"v":-10},{"c":20,"q":14,"v":-6},{"c":20,"q":16,"v":-2},{"c":20,"q":19,"v":-13},
      {"c":21,"q":0,"v":0.5},{"c":21,"q":2,"v":2},{"c":21,"q":4,"v":3},{"c":21,"q":6,"v":4},{"c":21,"q":8,"v":2},{"c":21,"q":10,"v":5},{"c":21,"q":12,"v":8},{"c":21,"q":14,"v":10},{"c":21,"q":16,"v":12},{"c":21,"q":19,"v":12.5},
      {"c":22,"q":0,"v":0},{"c":22,"q":2,"v":1},{"c":22,"q":4,"v":2},{"c":22,"q":6,"v":2},{"c":22,"q":8,"v":1},{"c":22,"q":10,"v":-2},{"c":22,"q":12,"v":-5},{"c":22,"q":14,"v":-8},{"c":22,"q":16,"v":-12},{"c":22,"q":19,"v":-15},
      {"c":23,"q":0,"v":-0.5},{"c":23,"q":2,"v":0},{"c":23,"q":4,"v":1},{"c":23,"q":6,"v":2},{"c":23,"q":8,"v":0},{"c":23,"q":10,"v":4},{"c":23,"q":12,"v":9},{"c":23,"q":14,"v":13},{"c":23,"q":16,"v":14},{"c":23,"q":19,"v":14},
      {"c":24,"q":0,"v":1},{"c":24,"q":2,"v":2.5},{"c":24,"q":4,"v":4},{"c":24,"q":6,"v":5},{"c":24,"q":8,"v":3},{"c":24,"q":10,"v":-2},{"c":24,"q":12,"v":-7},{"c":24,"q":14,"v":-5},{"c":24,"q":16,"v":0},{"c":24,"q":19,"v":6},
      {"c":25,"q":0,"v":0},{"c":25,"q":2,"v":-1},{"c":25,"q":4,"v":-2},{"c":25,"q":6,"v":-3},{"c":25,"q":8,"v":-2},{"c":25,"q":10,"v":-4},{"c":25,"q":12,"v":-6},{"c":25,"q":14,"v":-10},{"c":25,"q":16,"v":-13},{"c":25,"q":19,"v":-17},
      {"c":26,"q":0,"v":0.5},{"c":26,"q":2,"v":1.5},{"c":26,"q":4,"v":3},{"c":26,"q":6,"v":3},{"c":26,"q":8,"v":2},{"c":26,"q":10,"v":3},{"c":26,"q":12,"v":4},{"c":26,"q":14,"v":6},{"c":26,"q":16,"v":8},{"c":26,"q":19,"v":9},
      {"c":27,"q":0,"v":-1},{"c":27,"q":2,"v":-2},{"c":27,"q":4,"v":-2.5},{"c":27,"q":6,"v":-3},{"c":27,"q":8,"v":-1},{"c":27,"q":10,"v":1},{"c":27,"q":12,"v":0},{"c":27,"q":14,"v":-4},{"c":27,"q":16,"v":-8},{"c":27,"q":19,"v":-10},
      {"c":28,"q":0,"v":0},{"c":28,"q":2,"v":1},{"c":28,"q":4,"v":2},{"c":28,"q":6,"v":3},{"c":28,"q":8,"v":2},{"c":28,"q":10,"v":6},{"c":28,"q":12,"v":10},{"c":28,"q":14,"v":12},{"c":28,"q":16,"v":11},{"c":28,"q":19,"v":10}
    ],
    "dt": [
      {"q":0,"v":-0.8},{"q":1,"v":-1},{"q":2,"v":-2.3},{"q":3,"v":-3.2},{"q":4,"v":-4.3},{"q":5,"v":-5.2},{"q":6,"v":-5.9},{"q":7,"v":-6.6},{"q":8,"v":-6.2},{"q":9,"v":-7.8},
      {"q":10,"v":-9},{"q":11,"v":-13},{"q":12,"v":-17},{"q":13,"v":-18.5},{"q":14,"v":-23.3},{"q":15,"v":-22},{"q":16,"v":-19.3},{"q":17,"v":-18.3},{"q":18,"v":-17.8},{"q":19,"v":-17.9}
    ],
    "ep": [
      {"c":1,"q":0,"v":3.6},{"c":1,"q":2,"v":8.3},{"c":1,"q":4,"v":10.2},{"c":1,"q":6,"v":11.6},{"c":1,"q":8,"v":14},{"c":1,"q":10,"v":18},{"c":1,"q":12,"v":18.8},{"c":1,"q":14,"v":18.3},{"c":1,"q":16,"v":19},{"c":1,"q":19,"v":15.7},
      {"c":2,"q":0,"v":2},{"c":2,"q":2,"v":4},{"c":2,"q":4,"v":6.5},{"c":2,"q":6,"v":6},{"c":2,"q":8,"v":5.5},{"c":2,"q":10,"v":9},{"c":2,"q":12,"v":15},{"c":2,"q":14,"v":16.5},{"c":2,"q":16,"v":18.7},{"c":2,"q":19,"v":16},
      {"c":3,"q":0,"v":1.5},{"c":3,"q":2,"v":3},{"c":3,"q":4,"v":4},{"c":3,"q":6,"v":6},{"c":3,"q":8,"v":7},{"c":3,"q":10,"v":11.5},{"c":3,"q":12,"v":12},{"c":3,"q":14,"v":11},{"c":3,"q":16,"v":13.5},{"c":3,"q":19,"v":17.8},
      {"c":4,"q":0,"v":0.5},{"c":4,"q":2,"v":2},{"c":4,"q":4,"v":3},{"c":4,"q":6,"v":5},{"c":4,"q":8,"v":9},{"c":4,"q":10,"v":7.5},{"c":4,"q":12,"v":10},{"c":4,"q":14,"v":11.5},{"c":4,"q":16,"v":9},{"c":4,"q":19,"v":6.2},
      {"c":5,"q":0,"v":0},{"c":5,"q":2,"v":1},{"c":5,"q":4,"v":2},{"c":5,"q":6,"v":4},{"c":5,"q":8,"v":4.5},{"c":5,"q":10,"v":7},{"c":5,"q":12,"v":9},{"c":5,"q":14,"v":12.4},{"c":5,"q":16,"v":11},{"c":5,"q":19,"v":5.4},
      {"c":6,"q":0,"v":0},{"c":6,"q":2,"v":-1},{"c":6,"q":4,"v":0},{"c":6,"q":6,"v":2},{"c":6,"q":8,"v":4},{"c":6,"q":10,"v":6},{"c":6,"q":12,"v":8},{"c":6,"q":14,"v":10},{"c":6,"q":16,"v":15},{"c":6,"q":19,"v":17},
      {"c":7,"q":0,"v":-0.5},{"c":7,"q":2,"v":0.5},{"c":7,"q":4,"v":1.5},{"c":7,"q":6,"v":3},{"c":7,"q":8,"v":2},{"c":7,"q":10,"v":7},{"c":7,"q":12,"v":6},{"c":7,"q":14,"v":6},{"c":7,"q":16,"v":7},{"c":7,"q":19,"v":6},
      {"c":8,"q":0,"v":0.5},{"c":8,"q":2,"v":1},{"c":8,"q":4,"v":1.5},{"c":8,"q":6,"v":2},{"c":8,"q":8,"v":1.5},{"c":8,"q":10,"v":3},{"c":8,"q":12,"v":3},{"c":8,"q":14,"v":3},{"c":8,"q":16,"v":3},{"c":8,"q":19,"v":2.7},
      {"c":9,"q":0,"v":0},{"c":9,"q":2,"v":0},{"c":9,"q":4,"v":0},{"c":9,"q":6,"v":0},{"c":9,"q":8,"v":0.5},{"c":9,"q":10,"v":0.5},{"c":9,"q":12,"v":0.8},{"c":9,"q":14,"v":0.5},{"c":9,"q":16,"v":0},{"c":9,"q":19,"v":0.8},
      {"c":10,"q":0,"v":-0.5},{"c":10,"q":2,"v":-1},{"c":10,"q":4,"v":-0.5},{"c":10,"q":6,"v":0},{"c":10,"q":8,"v":0},{"c":10,"q":10,"v":-2},{"c":10,"q":12,"v":-1},{"c":10,"q":14,"v":1},{"c":10,"q":16,"v":2},{"c":10,"q":19,"v":2.3},
      {"c":11,"q":0,"v":-1},{"c":11,"q":2,"v":-2},{"c":11,"q":4,"v":-3},{"c":11,"q":6,"v":-2.5},{"c":11,"q":8,"v":-2},{"c":11,"q":10,"v":-4},{"c":11,"q":12,"v":-5},{"c":11,"q":14,"v":-2},{"c":11,"q":16,"v":-1.5},{"c":11,"q":19,"v":-1.5},
      {"c":12,"q":0,"v":-2.5},{"c":12,"q":2,"v":-5.5},{"c":12,"q":4,"v":-5.5},{"c":12,"q":6,"v":-6},{"c":12,"q":8,"v":-8},{"c":12,"q":10,"v":-8},{"c":12,"q":12,"v":-9},{"c":12,"q":14,"v":-11},{"c":12,"q":16,"v":-11},{"c":12,"q":19,"v":-9.7},
      {"c":13,"q":0,"v":-1},{"c":13,"q":2,"v":-3},{"c":13,"q":4,"v":-4},{"c":13,"q":6,"v":-5},{"c":13,"q":8,"v":-6},{"c":13,"q":10,"v":-6.5},{"c":13,"q":12,"v":-10.5},{"c":13,"q":14,"v":-12},{"c":13,"q":16,"v":-13},{"c":13,"q":18,"v":-14.5},{"c":13,"q":19,"v":-14.1},
      {"c":14,"q":0,"v":0.5},{"c":14,"q":2,"v":1},{"c":14,"q":4,"v":2},{"c":14,"q":6,"v":3},{"c":14,"q":8,"v":1},{"c":14,"q":10,"v":-4},{"c":14,"q":12,"v":-7},{"c":14,"q":14,"v":-10},{"c":14,"q":16,"v":-12.5},{"c":14,"q":19,"v":-12.8},
      {"c":15,"q":0,"v":0},{"c":15,"q":2,"v":-0.5},{"c":15,"q":4,"v":-1},{"c":15,"q":6,"v":-2},{"c":15,"q":8,"v":-2.5},{"c":15,"q":10,"v":-12},{"c":15,"q":11,"v":-18.2},{"c":15,"q":12,"v":-17.8},{"c":15,"q":14,"v":-8},{"c":15,"q":16,"v":1},{"c":15,"q":18,"v":8.5},{"c":15,"q":19,"v":8},
      {"c":16,"q":0,"v":-0.5},{"c":16,"q":2,"v":-1.5},{"c":16,"q":4,"v":-2.5},{"c":16,"q":6,"v":-3},{"c":16,"q":8,"v":-4.5},{"c":16,"q":10,"v":-5},{"c":16,"q":12,"v":-6},{"c":16,"q":14,"v":-7},{"c":16,"q":16,"v":-8},{"c":16,"q":19,"v":-12},
      {"c":17,"q":0,"v":0},{"c":17,"q":2,"v":0.5},{"c":17,"q":4,"v":-1},{"c":17,"q":6,"v":-1},{"c":17,"q":8,"v":-2},{"c":17,"q":10,"v":-3},{"c":17,"q":12,"v":-2},{"c":17,"q":14,"v":-4},{"c":17,"q":16,"v":-3},{"c":17,"q":19,"v":-4.3},
      {"c":18,"q":0,"v":1},{"c":18,"q":2,"v":2},{"c":18,"q":4,"v":2.5},{"c":18,"q":6,"v":3},{"c":18,"q":8,"v":4},{"c":18,"q":10,"v":3},{"c":18,"q":12,"v":4},{"c":18,"q":14,"v":1},{"c":18,"q":16,"v":-2},{"c":18,"q":19,"v":-2},
      {"c":19,"q":0,"v":-1},{"c":19,"q":2,"v":-2},{"c":19,"q":4,"v":-3},{"c":19,"q":6,"v":-5},{"c":19,"q":8,"v":-7},{"c":19,"q":10,"v":-7.5},{"c":19,"q":12,"v":-8},{"c":19,"q":14,"v":-9},{"c":19,"q":16,"v":-7},{"c":19,"q":19,"v":-6.5},
      {"c":20,"q":0,"v":0.5},{"c":20,"q":2,"v":1.5},{"c":20,"q":4,"v":4},{"c":20,"q":6,"v":6},{"c":20,"q":8,"v":7},{"c":20,"q":10,"v":6.5},{"c":20,"q":12,"v":4},{"c":20,"q":14,"v":5},{"c":20,"q":16,"v":4},{"c":20,"q":19,"v":2},
      {"c":21,"q":0,"v":0.5},{"c":21,"q":2,"v":1},{"c":21,"q":4,"v":2},{"c":21,"q":6,"v":3},{"c":21,"q":8,"v":4},{"c":21,"q":10,"v":5.5},{"c":21,"q":12,"v":7},{"c":21,"q":14,"v":8},{"c":21,"q":16,"v":7},{"c":21,"q":19,"v":6.3},
      {"c":22,"q":0,"v":-0.5},{"c":22,"q":2,"v":-1},{"c":22,"q":4,"v":-1.5},{"c":22,"q":6,"v":-2},{"c":22,"q":8,"v":-3},{"c":22,"q":10,"v":-4},{"c":22,"q":12,"v":-4.5},{"c":22,"q":14,"v":-5},{"c":22,"q":16,"v":-5},{"c":22,"q":19,"v":-5.5},
      {"c":23,"q":0,"v":0},{"c":23,"q":2,"v":0.5},{"c":23,"q":4,"v":1},{"c":23,"q":6,"v":1.5},{"c":23,"q":8,"v":2},{"c":23,"q":10,"v":1},{"c":23,"q":12,"v":0},{"c":23,"q":14,"v":0.5},{"c":23,"q":16,"v":1.5},{"c":23,"q":19,"v":1.2},
      {"c":24,"q":0,"v":-1},{"c":24,"q":2,"v":-2},{"c":24,"q":4,"v":-2.5},{"c":24,"q":6,"v":-3},{"c":24,"q":8,"v":-4},{"c":24,"q":10,"v":-5.5},{"c":24,"q":12,"v":-9},{"c":24,"q":14,"v":-10.5},{"c":24,"q":16,"v":-9},{"c":24,"q":19,"v":-9.5},
      {"c":25,"q":0,"v":1},{"c":25,"q":2,"v":2},{"c":25,"q":4,"v":3},{"c":25,"q":6,"v":3.5},{"c":25,"q":8,"v":4.5},{"c":25,"q":10,"v":5},{"c":25,"q":12,"v":5.5},{"c":25,"q":14,"v":3.5},{"c":25,"q":16,"v":1},{"c":25,"q":19,"v":0.3},
      {"c":26,"q":0,"v":0},{"c":26,"q":2,"v":-0.5},{"c":26,"q":4,"v":-1},{"c":26,"q":6,"v":-1.5},{"c":26,"q":8,"v":-2},{"c":26,"q":10,"v":-1},{"c":26,"q":12,"v":1},{"c":26,"q":14,"v":2},{"c":26,"q":16,"v":1.5},{"c":26,"q":19,"v":1.3},
      {"c":27,"q":0,"v":-0.5},{"c":27,"q":2,"v":-1.5},{"c":27,"q":4,"v":-2},{"c":27,"q":6,"v":-3},{"c":27,"q":8,"v":-3.5},{"c":27,"q":10,"v":-4.5},{"c":27,"q":12,"v":-6},{"c":27,"q":14,"v":-4},{"c":27,"q":16,"v":-2},{"c":27,"q":19,"v":-1.8},
      {"c":28,"q":0,"v":0.5},{"c":28,"q":2,"v":1},{"c":28,"q":4,"v":1},{"c":28,"q":6,"v":0.5},{"c":28,"q":8,"v":0},{"c":28,"q":10,"v":-1.5},{"c":28,"q":12,"v":-3},{"c":28,"q":14,"v":-6},{"c":28,"q":16,"v":-8},{"c":28,"q":19,"v":-10.5}
    ],
    "et": [
      {"q":0,"v":-1},{"q":1,"v":-1},{"q":2,"v":-1.9},{"q":3,"v":-2.2},{"q":4,"v":-2.5},{"q":5,"v":-3.5},{"q":6,"v":-3.6},{"q":7,"v":-3.9},{"q":8,"v":-3.6},{"q":9,"v":-5.9},
      {"q":10,"v":-7.8},{"q":11,"v":-10},{"q":12,"v":-12.7},{"q":13,"v":-10.2},{"q":14,"v":-9},{"q":15,"v":-7.2},{"q":16,"v":-6.2},{"q":17,"v":-7.2},{"q":18,"v":-8.3},{"q":19,"v":-9}
    ],
    "fp": [
      {"c":1,"q":0,"v":1},{"c":1,"q":2,"v":3},{"c":1,"q":4,"v":5},{"c":1,"q":6,"v":6.5},{"c":1,"q":8,"v":8.2},{"c":1,"q":10,"v":8.5},{"c":1,"q":12,"v":6.5},{"c":1,"q":14,"v":3},{"c":1,"q":16,"v":1},{"c":1,"q":19,"v":-3},
      {"c":2,"q":0,"v":0.5},{"c":2,"q":2,"v":1.5},{"c":2,"q":4,"v":3.5},{"c":2,"q":6,"v":5},{"c":2,"q":8,"v":6},{"c":2,"q":10,"v":5.5},{"c":2,"q":12,"v":5.5},{"c":2,"q":14,"v":6},{"c":2,"q":16,"v":7},{"c":2,"q":19,"v":7.5},
      {"c":3,"q":0,"v":0},{"c":3,"q":2,"v":0.5},{"c":3,"q":4,"v":2},{"c":3,"q":6,"v":3},{"c":3,"q":8,"v":4},{"c":3,"q":10,"v":7},{"c":3,"q":12,"v":11},{"c":3,"q":14,"v":9},{"c":3,"q":16,"v":9.2},{"c":3,"q":19,"v":11.5},
      {"c":4,"q":0,"v":0.3},{"c":4,"q":2,"v":1},{"c":4,"q":4,"v":2},{"c":4,"q":6,"v":3.5},{"c":4,"q":8,"v":4},{"c":4,"q":10,"v":8.5},{"c":4,"q":12,"v":7.8},{"c":4,"q":14,"v":7},{"c":4,"q":16,"v":8},{"c":4,"q":19,"v":10.4},
      {"c":5,"q":0,"v":0},{"c":5,"q":2,"v":0},{"c":5,"q":4,"v":0.5},{"c":5,"q":6,"v":1.5},{"c":5,"q":8,"v":2},{"c":5,"q":10,"v":4.5},{"c":5,"q":12,"v":6},{"c":5,"q":14,"v":6},{"c":5,"q":16,"v":7},{"c":5,"q":19,"v":8.2},
      {"c":6,"q":0,"v":-0.3},{"c":6,"q":2,"v":-0.5},{"c":6,"q":4,"v":0},{"c":6,"q":6,"v":1},{"c":6,"q":8,"v":2},{"c":6,"q":10,"v":3.5},{"c":6,"q":12,"v":4},{"c":6,"q":14,"v":6},{"c":6,"q":16,"v":8.5},{"c":6,"q":19,"v":11.2},
      {"c":7,"q":0,"v":0},{"c":7,"q":2,"v":1},{"c":7,"q":4,"v":1.5},{"c":7,"q":6,"v":2},{"c":7,"q":8,"v":2.5},{"c":7,"q":10,"v":3},{"c":7,"q":12,"v":3},{"c":7,"q":14,"v":3},{"c":7,"q":16,"v":4.5},{"c":7,"q":19,"v":4.8},
      {"c":8,"q":0,"v":0.5},{"c":8,"q":2,"v":1.5},{"c":8,"q":4,"v":2},{"c":8,"q":6,"v":1.5},{"c":8,"q":8,"v":1},{"c":8,"q":10,"v":2},{"c":8,"q":12,"v":2.5},{"c":8,"q":14,"v":3},{"c":8,"q":16,"v":3.5},{"c":8,"q":19,"v":3.8},
      {"c":9,"q":0,"v":-0.5},{"c":9,"q":2,"v":-1},{"c":9,"q":4,"v":-0.5},{"c":9,"q":6,"v":0},{"c":9,"q":8,"v":0.5},{"c":9,"q":10,"v":1},{"c":9,"q":12,"v":2},{"c":9,"q":14,"v":3.5},{"c":9,"q":16,"v":4.5},{"c":9,"q":19,"v":6.8},
      {"c":10,"q":0,"v":0},{"c":10,"q":2,"v":0.5},{"c":10,"q":4,"v":1},{"c":10,"q":6,"v":1.5},{"c":10,"q":8,"v":1},{"c":10,"q":10,"v":0.5},{"c":10,"q":12,"v":0.5},{"c":10,"q":14,"v":1},{"c":10,"q":16,"v":1},{"c":10,"q":19,"v":1},
      {"c":11,"q":0,"v":-0.5},{"c":11,"q":2,"v":-1.2},{"c":11,"q":4,"v":-1.5},{"c":11,"q":6,"v":-1.5},{"c":11,"q":8,"v":-2},{"c":11,"q":10,"v":-3},{"c":11,"q":12,"v":-2},{"c":11,"q":14,"v":-1},{"c":11,"q":16,"v":0},{"c":11,"q":19,"v":0.8},
      {"c":12,"q":0,"v":-1},{"c":12,"q":2,"v":-2},{"c":12,"q":4,"v":-3},{"c":12,"q":6,"v":-4.5},{"c":12,"q":8,"v":-5.5},{"c":12,"q":10,"v":-5},{"c":12,"q":12,"v":-4.5},{"c":12,"q":14,"v":-3.5},{"c":12,"q":16,"v":-3},{"c":12,"q":19,"v":-3.2},
      {"c":13,"q":0,"v":0},{"c":13,"q":2,"v":-0.5},{"c":13,"q":4,"v":-1},{"c":13,"q":6,"v":-1.5},{"c":13,"q":8,"v":-1.5},{"c":13,"q":10,"v":-2},{"c":13,"q":12,"v":-2.5},{"c":13,"q":14,"v":-3},{"c":13,"q":16,"v":-2},{"c":13,"q":19,"v":-0.6},
      {"c":14,"q":0,"v":-0.5},{"c":14,"q":2,"v":-1.5},{"c":14,"q":4,"v":-2.5},{"c":14,"q":6,"v":-3.5},{"c":14,"q":8,"v":-4},{"c":14,"q":10,"v":-5},{"c":14,"q":12,"v":-6.5},{"c":14,"q":14,"v":-6},{"c":14,"q":16,"v":-6.5},{"c":14,"q":19,"v":-6.5},
      {"c":15,"q":0,"v":0},{"c":15,"q":2,"v":-1},{"c":15,"q":4,"v":-2},{"c":15,"q":6,"v":-3},{"c":15,"q":8,"v":-4},{"c":15,"q":10,"v":-6},{"c":15,"q":12,"v":-7},{"c":15,"q":14,"v":-8.5},{"c":15,"q":16,"v":-9.5},{"c":15,"q":18,"v":-14},{"c":15,"q":19,"v":-15.8},
      {"c":16,"q":0,"v":-1},{"c":16,"q":2,"v":-2.5},{"c":16,"q":4,"v":-4},{"c":16,"q":6,"v":-5},{"c":16,"q":8,"v":-5.3},{"c":16,"q":10,"v":-8.5},{"c":16,"q":12,"v":-8.5},{"c":16,"q":14,"v":-8},{"c":16,"q":16,"v":-7.5},{"c":16,"q":19,"v":-8},
      {"c":17,"q":0,"v":0.3},{"c":17,"q":2,"v":0.5},{"c":17,"q":4,"v":0},{"c":17,"q":6,"v":-0.5},{"c":17,"q":8,"v":-1.5},{"c":17,"q":10,"v":-3},{"c":17,"q":12,"v":-4.5},{"c":17,"q":14,"v":-7},{"c":17,"q":16,"v":-9},{"c":17,"q":19,"v":-12},
      {"c":18,"q":0,"v":0},{"c":18,"q":2,"v":-0.5},{"c":18,"q":4,"v":-1.5},{"c":18,"q":6,"v":-2},{"c":18,"q":8,"v":-2.5},{"c":18,"q":10,"v":-2},{"c":18,"q":12,"v":-3.5},{"c":18,"q":14,"v":-5},{"c":18,"q":16,"v":-7},{"c":18,"q":19,"v":-11.2},
      {"c":19,"q":0,"v":0.5},{"c":19,"q":2,"v":1},{"c":19,"q":4,"v":1.5},{"c":19,"q":6,"v":2},{"c":19,"q":8,"v":3},{"c":19,"q":10,"v":6},{"c":19,"q":12,"v":4},{"c":19,"q":14,"v":3.5},{"c":19,"q":16,"v":2},{"c":19,"q":19,"v":1.7},
      {"c":20,"q":0,"v":-0.5},{"c":20,"q":2,"v":-1},{"c":20,"q":4,"v":-2},{"c":20,"q":6,"v":-3},{"c":20,"q":8,"v":-4},{"c":20,"q":10,"v":-2.5},{"c":20,"q":12,"v":0},{"c":20,"q":14,"v":2},{"c":20,"q":16,"v":3.5},{"c":20,"q":19,"v":4.5},
      {"c":21,"q":0,"v":0.3},{"c":21,"q":2,"v":0.8},{"c":21,"q":4,"v":1.5},{"c":21,"q":6,"v":3},{"c":21,"q":8,"v":4},{"c":21,"q":10,"v":3},{"c":21,"q":12,"v":1},{"c":21,"q":14,"v":-1},{"c":21,"q":16,"v":-5},{"c":21,"q":19,"v":-15.2},
      {"c":22,"q":0,"v":0.5},{"c":22,"q":2,"v":1},{"c":22,"q":4,"v":2},{"c":22,"q":6,"v":2.5},{"c":22,"q":8,"v":3.5},{"c":22,"q":10,"v":3.5},{"c":22,"q":12,"v":3},{"c":22,"q":14,"v":3},{"c":22,"q":16,"v":3.5},{"c":22,"q":19,"v":3.3},
      {"c":23,"q":0,"v":-0.5},{"c":23,"q":2,"v":-1},{"c":23,"q":4,"v":-1.5},{"c":23,"q":6,"v":-2},{"c":23,"q":8,"v":-2},{"c":23,"q":10,"v":-1.5},{"c":23,"q":12,"v":-2},{"c":23,"q":14,"v":-2.5},{"c":23,"q":16,"v":-2.5},{"c":23,"q":19,"v":-3},
      {"c":24,"q":0,"v":0},{"c":24,"q":2,"v":0.5},{"c":24,"q":4,"v":0.5},{"c":24,"q":6,"v":1},{"c":24,"q":8,"v":1.5},{"c":24,"q":10,"v":2},{"c":24,"q":12,"v":3},{"c":24,"q":14,"v":4},{"c":24,"q":16,"v":4.5},{"c":24,"q":19,"v":4.6},
      {"c":25,"q":0,"v":-0.5},{"c":25,"q":2,"v":-1.2},{"c":25,"q":4,"v":-2},{"c":25,"q":6,"v":-2.5},{"c":25,"q":8,"v":-3},{"c":25,"q":10,"v":-4},{"c":25,"q":12,"v":-5},{"c":25,"q":14,"v":-5.5},{"c":25,"q":16,"v":-6},{"c":25,"q":19,"v":-7.3},
      {"c":26,"q":0,"v":0.3},{"c":26,"q":2,"v":0.5},{"c":26,"q":4,"v":1},{"c":26,"q":6,"v":1.5},{"c":26,"q":8,"v":2},{"c":26,"q":10,"v":1.5},{"c":26,"q":12,"v":0.5},{"c":26,"q":14,"v":0},{"c":26,"q":16,"v":0.5},{"c":26,"q":19,"v":0.8},
      {"c":27,"q":0,"v":0},{"c":27,"q":2,"v":-0.5},{"c":27,"q":4,"v":-1},{"c":27,"q":6,"v":-1},{"c":27,"q":8,"v":-1.5},{"c":27,"q":10,"v":-2.5},{"c":27,"q":12,"v":-4},{"c":27,"q":14,"v":-5.5},{"c":27,"q":16,"v":-6.5},{"c":27,"q":19,"v":-7.7},
      {"c":28,"q":0,"v":0.5},{"c":28,"q":2,"v":1.5},{"c":28,"q":4,"v":2.5},{"c":28,"q":6,"v":3.5},{"c":28,"q":8,"v":4},{"c":28,"q":10,"v":5},{"c":28,"q":12,"v":5.5},{"c":28,"q":14,"v":6},{"c":28,"q":16,"v":6.5},{"c":28,"q":19,"v":6.8},
      {"c":29,"q":0,"v":-0.3},{"c":29,"q":2,"v":-0.8},{"c":29,"q":4,"v":-1.5},{"c":29,"q":6,"v":-2},{"c":29,"q":8,"v":-2.5},{"c":29,"q":10,"v":-2},{"c":29,"q":12,"v":-1.5},{"c":29,"q":14,"v":-0.5},{"c":29,"q":16,"v":0.5},{"c":29,"q":19,"v":-0.3}
    ],
    "ft": [
      {"q":0,"v":-0.5},{"q":1,"v":-1.8},{"q":2,"v":-2.6},{"q":3,"v":-3},{"q":4,"v":-3.6},{"q":5,"v":-3.6},{"q":6,"v":-3.9},{"q":7,"v":-4.5},{"q":8,"v":-4.9},{"q":9,"v":-5.5},
      {"q":10,"v":-7.1},{"q":11,"v":-8.2},{"q":12,"v":-9.3},{"q":13,"v":-10.7},{"q":14,"v":-11.2},{"q":15,"v":-11.5},{"q":16,"v":-11.5},{"q":17,"v":-11.9},{"q":18,"v":-12.5},{"q":19,"v":-13.3}
    ]
  },
  "concat": [
    {
      "width": 338, "height": 302,
      "title": {"text": "(a) Full-service restaurants, MPLS", "dx": -30, "offset": 38},
      "layer": [
        {"data": {"name": "ap"}, "mark": {"type": "line", "strokeWidth": 1},
         "encoding": {
           "x": {"field": "q", "type": "quantitative", "scale": {"domain": [-0.35, 19.45], "nice": false, "zero": false}, "axis": {"values": [0, 4, 8, 12, 16], "labelExpr": "2018 + datum.value / 4", "title": null}},
           "y": {"field": "v", "type": "quantitative", "scale": {"domain": [-42.4, 42], "nice": false, "zero": false}, "axis": {"values": [-40, -20, 0, 20, 40], "labelExpr": "'' + datum.value", "title": "Log of Jobs"}},
           "detail": {"field": "c", "type": "nominal"},
           "color": {"datum": "Placebo Cities", "type": "nominal", "scale": {"domain": ["Minneapolis", "Placebo Cities"], "range": ["#000000", "#a6a6a6"]},
                     "legend": {"title": null, "orient": "none", "legendX": 55, "legendY": 342, "direction": "horizontal", "symbolStrokeWidth": {"expr": "datum.value == 'Placebo Cities' ? 1 : 4"}}}
         }},
        {"data": {"name": "at"}, "mark": {"type": "line", "strokeWidth": 3.5},
         "encoding": {"x": {"field": "q", "type": "quantitative"}, "y": {"field": "v", "type": "quantitative"}, "color": {"datum": "Minneapolis", "type": "nominal"}}}
      ]
    },
    {
      "width": 338, "height": 302,
      "title": {"text": "(b) Ltd-service restaurants, MPLS", "dx": -32, "offset": 38},
      "layer": [
        {"data": {"name": "bp"}, "mark": {"type": "line", "strokeWidth": 1},
         "encoding": {
           "x": {"field": "q", "type": "quantitative", "scale": {"domain": [-0.35, 19.45], "nice": false, "zero": false}, "axis": {"values": [0, 4, 8, 12, 16], "labelExpr": "2018 + datum.value / 4", "title": null}},
           "y": {"field": "v", "type": "quantitative", "scale": {"domain": [-21.2, 21], "nice": false, "zero": false}, "axis": {"values": [-20, -10, 0, 10, 20], "labelExpr": "'' + datum.value", "title": "Log of Jobs"}},
           "detail": {"field": "c", "type": "nominal"},
           "color": {"datum": "Placebo Cities", "type": "nominal", "scale": {"domain": ["Minneapolis", "Placebo Cities"], "range": ["#000000", "#a6a6a6"]},
                     "legend": {"title": null, "orient": "none", "legendX": 55, "legendY": 342, "direction": "horizontal", "symbolStrokeWidth": {"expr": "datum.value == 'Placebo Cities' ? 1 : 4"}}}
         }},
        {"data": {"name": "bt"}, "mark": {"type": "line", "strokeWidth": 3.5},
         "encoding": {"x": {"field": "q", "type": "quantitative"}, "y": {"field": "v", "type": "quantitative"}, "color": {"datum": "Minneapolis", "type": "nominal"}}}
      ]
    },
    {
      "width": 338, "height": 302,
      "title": {"text": "(c) Retail trade, MPLS", "dx": -32, "offset": 38},
      "layer": [
        {"data": {"name": "cp"}, "mark": {"type": "line", "strokeWidth": 1},
         "encoding": {
           "x": {"field": "q", "type": "quantitative", "scale": {"domain": [-0.35, 19.45], "nice": false, "zero": false}, "axis": {"values": [0, 4, 8, 12, 16], "labelExpr": "2018 + datum.value / 4", "title": null}},
           "y": {"field": "v", "type": "quantitative", "scale": {"domain": [-11.57, 12.56], "nice": false, "zero": false}, "axis": {"values": [-10, -5, 0, 5, 10], "labelExpr": "'' + datum.value", "title": "Log of Jobs"}},
           "detail": {"field": "c", "type": "nominal"},
           "color": {"datum": "Placebo Cities", "type": "nominal", "scale": {"domain": ["Minneapolis", "Placebo Cities"], "range": ["#000000", "#a6a6a6"]},
                     "legend": {"title": null, "orient": "none", "legendX": 55, "legendY": 342, "direction": "horizontal", "symbolStrokeWidth": {"expr": "datum.value == 'Placebo Cities' ? 1 : 4"}}}
         }},
        {"data": {"name": "ct"}, "mark": {"type": "line", "strokeWidth": 3.5},
         "encoding": {"x": {"field": "q", "type": "quantitative"}, "y": {"field": "v", "type": "quantitative"}, "color": {"datum": "Minneapolis", "type": "nominal"}}}
      ]
    },
    {
      "width": 338, "height": 302,
      "title": {"text": "(d) Full-service restaurants, SP", "dx": -32, "offset": 45},
      "layer": [
        {"data": {"name": "dp"}, "mark": {"type": "line", "strokeWidth": 1},
         "encoding": {
           "x": {"field": "q", "type": "quantitative", "scale": {"domain": [-0.35, 19.45], "nice": false, "zero": false}, "axis": {"values": [0, 4, 8, 12, 16], "labelExpr": "2018 + datum.value / 4", "title": null}},
           "y": {"field": "v", "type": "quantitative", "scale": {"domain": [-44.2, 42.3], "nice": false, "zero": false}, "axis": {"values": [-40, -20, 0, 20, 40], "labelExpr": "'' + datum.value", "title": "Log of Jobs"}},
           "detail": {"field": "c", "type": "nominal"},
           "color": {"datum": "Placebo Cities", "type": "nominal", "scale": {"domain": ["Saint Paul", "Placebo Cities"], "range": ["#000000", "#a6a6a6"]},
                     "legend": {"title": null, "orient": "none", "legendX": 60, "legendY": 342, "direction": "horizontal", "symbolStrokeWidth": {"expr": "datum.value == 'Placebo Cities' ? 1 : 4"}}}
         }},
        {"data": {"name": "dt"}, "mark": {"type": "line", "strokeWidth": 3.5},
         "encoding": {"x": {"field": "q", "type": "quantitative"}, "y": {"field": "v", "type": "quantitative"}, "color": {"datum": "Saint Paul", "type": "nominal"}}}
      ]
    },
    {
      "width": 338, "height": 302,
      "title": {"text": "(e) Ltd-service restaurants, SP", "dx": -32, "offset": 45},
      "layer": [
        {"data": {"name": "ep"}, "mark": {"type": "line", "strokeWidth": 1},
         "encoding": {
           "x": {"field": "q", "type": "quantitative", "scale": {"domain": [-0.35, 19.45], "nice": false, "zero": false}, "axis": {"values": [0, 4, 8, 12, 16], "labelExpr": "2018 + datum.value / 4", "title": null}},
           "y": {"field": "v", "type": "quantitative", "scale": {"domain": [-21.3, 21.1], "nice": false, "zero": false}, "axis": {"values": [-20, -10, 0, 10, 20], "labelExpr": "'' + datum.value", "title": "Log of Jobs"}},
           "detail": {"field": "c", "type": "nominal"},
           "color": {"datum": "Placebo Cities", "type": "nominal", "scale": {"domain": ["Saint Paul", "Placebo Cities"], "range": ["#000000", "#a6a6a6"]},
                     "legend": {"title": null, "orient": "none", "legendX": 60, "legendY": 342, "direction": "horizontal", "symbolStrokeWidth": {"expr": "datum.value == 'Placebo Cities' ? 1 : 4"}}}
         }},
        {"data": {"name": "et"}, "mark": {"type": "line", "strokeWidth": 3.5},
         "encoding": {"x": {"field": "q", "type": "quantitative"}, "y": {"field": "v", "type": "quantitative"}, "color": {"datum": "Saint Paul", "type": "nominal"}}}
      ]
    },
    {
      "width": 338, "height": 302,
      "title": {"text": "(f) Retail trade, SP", "dx": -32, "offset": 45},
      "layer": [
        {"data": {"name": "fp"}, "mark": {"type": "line", "strokeWidth": 1},
         "encoding": {
           "x": {"field": "q", "type": "quantitative", "scale": {"domain": [-0.35, 19.45], "nice": false, "zero": false}, "axis": {"values": [0, 4, 8, 12, 16], "labelExpr": "2018 + datum.value / 4", "title": null}},
           "y": {"field": "v", "type": "quantitative", "scale": {"domain": [-16.53, 12.29], "nice": false, "zero": false}, "axis": {"values": [-15, -10, -5, 0, 5, 10], "labelExpr": "'' + datum.value", "title": "Log of Jobs"}},
           "detail": {"field": "c", "type": "nominal"},
           "color": {"datum": "Placebo Cities", "type": "nominal", "scale": {"domain": ["Saint Paul", "Placebo Cities"], "range": ["#000000", "#a6a6a6"]},
                     "legend": {"title": null, "orient": "none", "legendX": 60, "legendY": 342, "direction": "horizontal", "symbolStrokeWidth": {"expr": "datum.value == 'Placebo Cities' ? 1 : 4"}}}
         }},
        {"data": {"name": "ft"}, "mark": {"type": "line", "strokeWidth": 3.5},
         "encoding": {"x": {"field": "q", "type": "quantitative"}, "y": {"field": "v", "type": "quantitative"}, "color": {"datum": "Saint Paul", "type": "nominal"}}}
      ]
    }
  ],
  "resolve": {
    "scale": {"color": "independent", "x": "independent", "y": "independent"},
    "legend": {"color": "independent"}
  },
  "config": {
    "view": {"stroke": null},
    "font": "Liberation Sans",
    "axis": {"grid": false, "domainColor": "#000000", "domainWidth": 1, "tickColor": "#000000", "tickSize": 5, "tickWidth": 1, "labelColor": "#000000", "titleColor": "#000000", "titleFontWeight": "normal"},
    "axisX": {"labelFont": "Liberation Sans", "labelFontSize": 13, "labelPadding": 3, "labelFlush": false},
    "axisY": {"labelFont": "Liberation Sans", "labelFontSize": 16, "labelAngle": -90, "labelAlign": "center", "labelBaseline": "alphabetic", "labelPadding": 5, "titleFont": "Liberation Sans", "titleFontSize": 19, "titlePadding": 12},
    "legend": {"symbolType": "stroke", "symbolSize": 1444, "labelFont": "Liberation Sans", "labelFontSize": 12, "labelColor": "#000000", "labelOffset": 20, "columnPadding": 17},
    "title": {"font": "DejaVu Serif", "fontSize": 23, "fontWeight": "normal", "color": "#000000", "orient": "bottom", "anchor": "middle", "frame": "group"}
  }
}
